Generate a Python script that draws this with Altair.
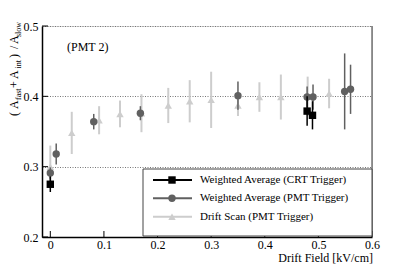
import altair as alt
import pandas as pd

# ---- data ----
crt_x = [0.0, 0.479, 0.489]
crt_y = [0.275, 0.379, 0.373]
crt_err = [0.011, 0.021, 0.020]

pmt_x = [0.0, 0.011, 0.081, 0.168, 0.350, 0.479, 0.490, 0.549, 0.560]
pmt_y = [0.291, 0.318, 0.364, 0.376, 0.401, 0.399, 0.399, 0.407, 0.410]
pmt_err = [0.008, 0.015, 0.011, 0.010, 0.020, 0.015, 0.018, 0.054, 0.035]

drift_x = [0.0, 0.04, 0.091, 0.13, 0.17, 0.22, 0.26, 0.30, 0.35, 0.39, 0.43, 0.48, 0.52]
drift_y = [0.300, 0.348, 0.366, 0.375, 0.376, 0.387, 0.393, 0.395, 0.387, 0.399, 0.399, 0.400, 0.404]
drift_err = [0.030, 0.030, 0.020, 0.019, 0.027, 0.025, 0.030, 0.040, 0.015, 0.021, 0.032, 0.028, 0.021]

x_ticks = [0, 0.1, 0.2, 0.3, 0.4, 0.5, 0.6]
y_ticks = [0.2, 0.3, 0.4, 0.5]
legend_labels = ["Weighted Average (CRT Trigger)",
                 "Weighted Average (PMT Trigger)",
                 "Drift Scan (PMT Trigger)"]
x_title = "Drift Field [kV/cm]"
annotation = "(PMT 2)"
y_title_parts = ["(", "A", "fast", "+", "A", "int", ")", "/", "A", "slow"]
y_title_sub = [False, False, True, False, False, True, False, False, False, True]

# ---- layout ----
W, H = 330, 211
FONT = "Liberation Serif"
C_CRT, C_PMT, C_DRIFT = "#000000", "#606060", "#cdcdcd"

x_scale = alt.Scale(domain=[-0.0155, 0.6], nice=False, zero=False)
y_scale = alt.Scale(domain=[0.2, 0.5], nice=False, zero=False)
x_axis = alt.Axis(values=x_ticks, format="~g", grid=False, ticks=False,
                  domainColor="black", domainWidth=1.5, labelFont=FONT,
                  labelFontSize=12, labelColor="black", labelPadding=2,
                  labelFlush=False, labelOverlap=False, title=None)
y_axis = alt.Axis(values=y_ticks, format="~g", grid=True, gridColor="#777777",
                  gridDash=[1, 1.5], gridWidth=1, ticks=False,
                  domainColor="black", domainWidth=1.5, labelFont=FONT,
                  labelFontSize=12, labelColor="black", labelPadding=4,
                  labelFlush=False, labelOverlap=False, title=None)


def X(f):
    return alt.X(f, type="quantitative", scale=x_scale, axis=x_axis)


def Y(f):
    return alt.Y(f, type="quantitative", scale=y_scale, axis=y_axis)


def frame(xs, ys, es):
    return pd.DataFrame({"x": xs, "y": ys,
                         "lo": [a - b for a, b in zip(ys, es)],
                         "hi": [a + b for a, b in zip(ys, es)]})


d_drift = frame(drift_x, drift_y, drift_err)
d_pmt = frame(pmt_x, pmt_y, pmt_err)
d_crt = frame(crt_x, crt_y, crt_err)

layers = []

# inward ticks
layers.append(alt.Chart(pd.DataFrame({"v": x_ticks})).mark_rule(color="black", strokeWidth=1)
              .encode(x=X("v"), y=alt.value(H), y2=alt.value(H - 6)))
layers.append(alt.Chart(pd.DataFrame({"v": y_ticks})).mark_rule(color="black", strokeWidth=1)
              .encode(y=Y("v"), x=alt.value(0), x2=alt.value(6)))
# right frame
layers.append(alt.Chart(pd.DataFrame({"v": [0]})).mark_rule(color="#333333", strokeWidth=1)
              .encode(x=alt.value(W), y=alt.value(0), y2=alt.value(H)))

# series
for d, col, shape, size, sw in [(d_drift, C_DRIFT, "triangle-up", 55, 2),
                                (d_pmt, C_PMT, "circle", 55, 1.5),
                                (d_crt, C_CRT, "square", 55, 1.5)]:
    base = alt.Chart(d)
    layers.append(base.mark_rule(color=col, strokeWidth=sw).encode(x=X("x"), y=Y("lo"), y2="hi"))
    layers.append(base.mark_point(shape=shape, filled=True, size=size, color=col, opacity=1)
                  .encode(x=X("x"), y=Y("y")))

# legend box
LX0, LX1, LY0, LY1 = 101, 330, 143, 210
layers.append(alt.Chart(pd.DataFrame({"v": [0]})).mark_rect(fill="white", stroke="#444444", strokeWidth=1)
              .encode(x=alt.value(LX0), x2=alt.value(LX1), y=alt.value(LY0), y2=alt.value(LY1)))
rows_y = [154, 172.3, 190.7]
for lab, ry, col, shape, sw in zip(legend_labels, rows_y,
                                   [C_CRT, C_PMT, C_DRIFT],
                                   ["square", "circle", "triangle-up"],
                                   [2, 2, 2]):
    one = alt.Chart(pd.DataFrame({"t": [lab]}))
    layers.append(one.mark_rule(color=col, strokeWidth=sw)
                  .encode(x=alt.value(111), x2=alt.value(150), y=alt.value(ry)))
    layers.append(one.mark_point(shape=shape, filled=True, size=55, color=col, opacity=1)
                  .encode(x=alt.value(130), y=alt.value(ry)))
    layers.append(one.mark_text(align="left", baseline="middle", font=FONT, fontSize=11, color="black")
                  .encode(text="t:N", x=alt.value(158), y=alt.value(ry)))

# annotation and x title
layers.append(alt.Chart(pd.DataFrame({"t": [annotation]}))
              .mark_text(align="left", baseline="middle", font=FONT, fontSize=12, color="black")
              .encode(text="t:N", x=alt.value(25), y=alt.value(21)))
layers.append(alt.Chart(pd.DataFrame({"t": [x_title]}))
              .mark_text(align="right", baseline="alphabetic", font=FONT, fontSize=12, color="black")
              .encode(text="t:N", x=alt.value(331), y=alt.value(235.5)))

# y title composed of segments (rotated)
starts = [116, 109, 100, 88, 79, 68.5, 58, 49, 44, 37]  # page y where each segment begins
for part, sub, sy in zip(y_title_parts, y_title_sub, starts):
    layers.append(alt.Chart(pd.DataFrame({"t": [part]}))
                  .mark_text(align="left", baseline="alphabetic", angle=270, font=FONT,
                             fontSize=8 if sub else 12, color="black")
                  .encode(text="t:N", x=alt.value((21 if sub else 18) - 42),
                          y=alt.value(sy - 26)))

chart = alt.layer(*layers).properties(
    width=W, height=H,
    autosize=alt.AutoSizeParams(type="none"),
    padding={"left": 34, "top": 18, "right": 10, "bottom": 27},
).configure_view(stroke=None).configure(background="white")

chart.save("out.html", embed_options={"renderer": "svg", "actions": False})
